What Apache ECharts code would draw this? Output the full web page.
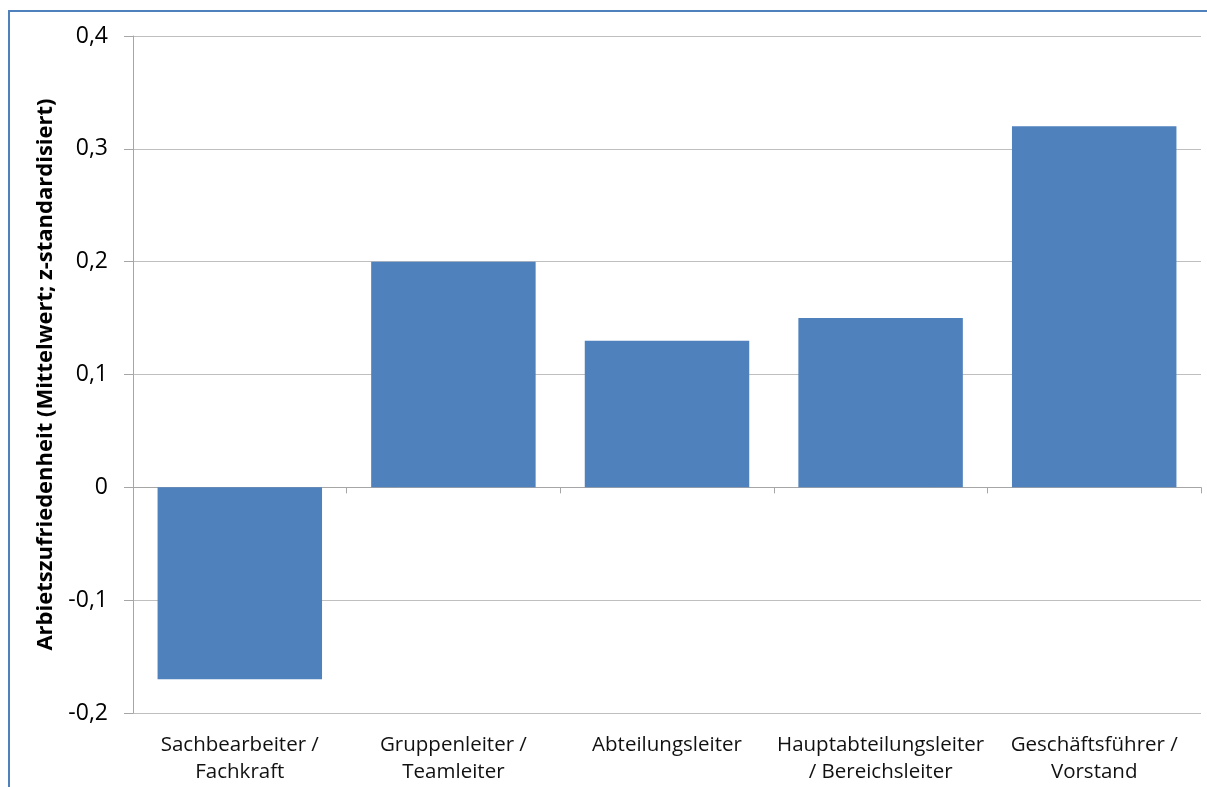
<!DOCTYPE html>
<html><head><meta charset="utf-8">
<script src="https://cdn.jsdelivr.net/npm/echarts@6/dist/echarts.min.js"></script>
<style>
html,body{margin:0;padding:0;background:#fff;}
#frame{position:absolute;left:8px;top:10px;width:1199px;height:777px;border-left:2px solid #4f81bd;border-top:2px solid #4f81bd;box-sizing:border-box;}
#c{position:absolute;left:0;top:0;width:1207px;height:787px;}
</style></head>
<body>
<div id="frame"></div>
<div id="c"></div>
<script>
const categories = ['Sachbearbeiter /\nFachkraft', 'Gruppenleiter /\nTeamleiter', 'Abteilungsleiter', 'Hauptabteilungsleiter\n/ Bereichsleiter', 'Geschäftsführer /\nVorstand'];
const values = [-0.17, 0.20, 0.13, 0.15, 0.32];
const yAxisName = 'Arbietszufriedenheit (Mittelwert; z-standardisiert)';
const yMin = -0.2, yMax = 0.4, yStep = 0.1;

const font = '"Open Sans", Lato, sans-serif';
const chart = echarts.init(document.getElementById('c'), null, {renderer: 'canvas'});
chart.setOption({
  backgroundColor: 'transparent',
  animation: false,
  grid: {left: 133, right: 6, top: 36, bottom: 74},
  xAxis: [{
    type: 'category', data: categories,
    axisLine: {onZero: true, lineStyle: {color: '#a6a6a6', width: 1}},
    axisTick: {show: true, alignWithLabel: false, length: 6, inside: false, lineStyle: {color: '#a6a6a6'}},
    axisLabel: {show: false},
    splitLine: {show: false}
  }, {
    type: 'category', data: categories, position: 'bottom',
    axisLine: {show: false, onZero: false},
    axisTick: {show: false},
    axisLabel: {show: true, color: '#111', fontFamily: font, fontSize: 20.5, lineHeight: 27, margin: 19, interval: 0}
  }],
  yAxis: {
    type: 'value', min: yMin, max: yMax, interval: yStep,
    name: yAxisName, nameLocation: 'middle', nameGap: 76,
    nameTextStyle: {fontFamily: font, fontWeight: 'bold', fontSize: 22, color: '#000'},
    axisLine: {show: true, lineStyle: {color: '#a6a6a6'}},
    axisTick: {show: true, length: 9, lineStyle: {color: '#a6a6a6'}},
    axisLabel: {color: '#000', fontFamily: font, fontSize: 23, margin: 25,
      formatter: v => (Math.round(v * 10) / 10).toString().replace('.', ',')},
    splitLine: {show: true, lineStyle: {color: '#bfbfbf', width: 1}}
  },
  series: [{
    type: 'bar', data: values, xAxisIndex: 0,
    barWidth: '77%',
    itemStyle: {color: '#4f81bd'}
  }]
});
</script>
</body></html>
